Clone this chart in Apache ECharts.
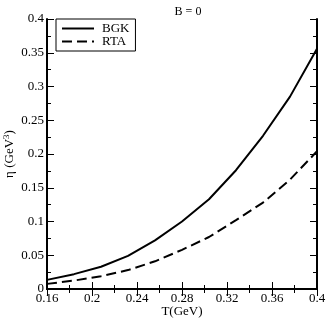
<!DOCTYPE html>
<html><head><meta charset="utf-8">
<script src="https://cdn.jsdelivr.net/npm/echarts@6/dist/echarts.min.js"></script>
<style>html,body{margin:0;padding:0;background:#fff}#c{width:327px;height:319px}</style>
</head><body><div id="c"></div>
<script>
var temperature = [0.16, 0.184, 0.208, 0.232, 0.256, 0.28, 0.304, 0.328, 0.352, 0.376, 0.4];
var bgk = [0.0135, 0.022, 0.033, 0.049, 0.072, 0.100, 0.133, 0.176, 0.227, 0.285, 0.356];
var rta = [0.0076, 0.0125, 0.019, 0.028, 0.041, 0.058, 0.077, 0.102, 0.128, 0.162, 0.204];
var xTicks = [0.16, 0.2, 0.24, 0.28, 0.32, 0.36, 0.4];
var yTicks = [0, 0.05, 0.1, 0.15, 0.2, 0.25, 0.3, 0.35, 0.4];

var F = 'Liberation Serif';
function pairs(xs, ys){ return xs.map(function(x,i){ return [x, ys[i]]; }); }
var axLine = {show:true, lineStyle:{color:'#000', width:2}};
var chart = echarts.init(document.getElementById('c'), null, {renderer:'canvas'});
chart.setOption({
  animation:false,
  title:{text:'B = 0', left:183, top:1, textAlign:'center',
    textStyle:{fontFamily:F, fontSize:12, fontWeight:'normal', color:'#000'}},
  legend:{orient:'vertical', left:56, top:19, itemWidth:32, itemHeight:12, itemGap:0,
    padding:[3,6,3,5], borderColor:'#000', borderWidth:1, backgroundColor:'#fff',
    itemStyle:{opacity:0},
    textStyle:{fontFamily:F, fontSize:13, lineHeight:12, color:'#000', padding:[0,0,0,3]},
    data:['BGK','RTA']},
  grid:{left:47, right:10, top:19, bottom:30, containLabel:false, outerBoundsMode:'none'},
  xAxis:[{type:'value', min:0.16, max:0.4, interval:0.04,
    name:'T(GeV)', nameLocation:'middle', nameGap:16, nameMoveOverlap:false,
    nameTextStyle:{fontFamily:F, fontSize:13, color:'#000'},
    axisLine:axLine, splitLine:{show:false},
    axisTick:{inside:true, length:7, lineStyle:{color:'#000', width:1}},
    minorTick:{show:true, splitNumber:2, length:4, lineStyle:{color:'#000'}},
    axisLabel:{fontFamily:F, fontSize:13, color:'#000', margin:3,
      customValues: xTicks, formatter:function(v){return String(+v.toFixed(2));}}},
   {type:'value', position:'top', min:0.16, max:0.4, interval:0.04,
    axisLine:axLine, splitLine:{show:false}, axisLabel:{show:false},
    axisTick:{inside:true, length:7, lineStyle:{color:'#000'}},
    minorTick:{show:true, splitNumber:2, length:4, lineStyle:{color:'#000'}}}],
  yAxis:[{type:'value', min:0, max:0.4, interval:0.05,
    name:'{a|η (GeV}{s|3}{a|)}', nameLocation:'middle', nameGap:30, nameRotate:90, nameMoveOverlap:false,
    nameTextStyle:{rich:{a:{fontFamily:F, fontSize:13, color:'#000'},
      s:{fontFamily:F, fontSize:9, color:'#000', verticalAlign:'top', padding:[0,0,6,0]}}},
    axisLine:axLine, splitLine:{show:false},
    axisTick:{inside:true, length:7, lineStyle:{color:'#000'}},
    minorTick:{show:true, splitNumber:2, length:4, lineStyle:{color:'#000'}},
    axisLabel:{fontFamily:F, fontSize:13, color:'#000', margin:3,
      formatter:function(v){return String(+v.toFixed(2));}}},
   {type:'value', position:'right', min:0, max:0.4, interval:0.05,
    axisLine:axLine, splitLine:{show:false}, axisLabel:{show:false},
    axisTick:{inside:true, length:7, lineStyle:{color:'#000'}},
    minorTick:{show:true, splitNumber:2, length:4, lineStyle:{color:'#000'}}}],
  series:[
    {name:'BGK', type:'line', data:pairs(temperature,bgk), showSymbol:false, symbol:'none',
      lineStyle:{color:'#000', width:2}, itemStyle:{color:'#000'}},
    {name:'RTA', type:'line', data:pairs(temperature,rta), showSymbol:false, symbol:'none',
      lineStyle:{color:'#000', width:2, type:[10,5]}, itemStyle:{color:'#000'}}
  ]
});
</script></body></html>
